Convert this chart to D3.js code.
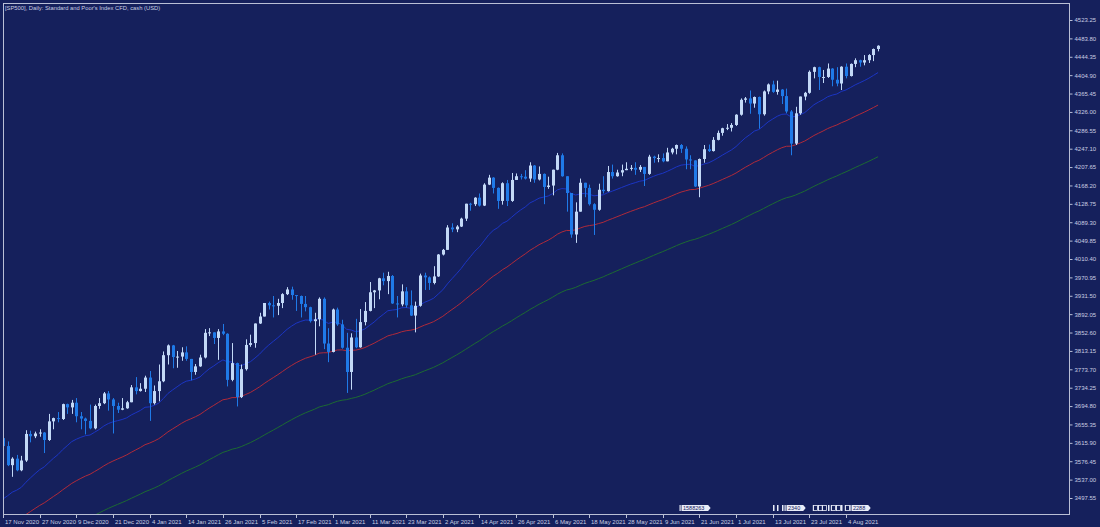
<!DOCTYPE html>
<html>
<head>
<meta charset="utf-8">
<script src="https://cdn.jsdelivr.net/npm/d3@7"></script>
<style>
html,body{margin:0;padding:0;background:#15205c;}
svg{display:block;}
text{font-family:"Liberation Sans",Arial,sans-serif;}
</style>
</head>
<body>
<svg id="chart" width="1100" height="527"></svg>
<script>
// ---------- DATA ----------
const title = "[SP500], Daily:  Standard and Poor's Index CFD, cash (USD)";

const dates = [
"2020-11-17","2020-11-18","2020-11-19","2020-11-20","2020-11-23","2020-11-24","2020-11-25","2020-11-26","2020-11-27","2020-11-30",
"2020-12-01","2020-12-02","2020-12-03","2020-12-04","2020-12-07","2020-12-08","2020-12-09","2020-12-10","2020-12-11","2020-12-14",
"2020-12-15","2020-12-16","2020-12-17","2020-12-18","2020-12-21","2020-12-22","2020-12-23","2020-12-24","2020-12-28","2020-12-29",
"2020-12-30","2020-12-31","2021-01-04","2021-01-05","2021-01-06","2021-01-07","2021-01-08","2021-01-11","2021-01-12","2021-01-13",
"2021-01-14","2021-01-15","2021-01-18","2021-01-19","2021-01-20","2021-01-21","2021-01-22","2021-01-25","2021-01-26","2021-01-27",
"2021-01-28","2021-01-29","2021-02-01","2021-02-02","2021-02-03","2021-02-04","2021-02-05","2021-02-08","2021-02-09","2021-02-10",
"2021-02-11","2021-02-12","2021-02-15","2021-02-16","2021-02-17","2021-02-18","2021-02-19","2021-02-22","2021-02-23","2021-02-24",
"2021-02-25","2021-02-26","2021-03-01","2021-03-02","2021-03-03","2021-03-04","2021-03-05","2021-03-08","2021-03-09","2021-03-10",
"2021-03-11","2021-03-12","2021-03-15","2021-03-16","2021-03-17","2021-03-18","2021-03-19","2021-03-22","2021-03-23","2021-03-24",
"2021-03-25","2021-03-26","2021-03-29","2021-03-30","2021-03-31","2021-04-01","2021-04-02","2021-04-05","2021-04-06","2021-04-07",
"2021-04-08","2021-04-09","2021-04-12","2021-04-13","2021-04-14","2021-04-15","2021-04-16","2021-04-19","2021-04-20","2021-04-21",
"2021-04-22","2021-04-23","2021-04-26","2021-04-27","2021-04-28","2021-04-29","2021-04-30","2021-05-03","2021-05-04","2021-05-05",
"2021-05-06","2021-05-07","2021-05-10","2021-05-11","2021-05-12","2021-05-13","2021-05-14","2021-05-17","2021-05-18","2021-05-19",
"2021-05-20","2021-05-21","2021-05-24","2021-05-25","2021-05-26","2021-05-27","2021-05-28","2021-05-31","2021-06-01","2021-06-02",
"2021-06-03","2021-06-04","2021-06-07","2021-06-08","2021-06-09","2021-06-10","2021-06-11","2021-06-14","2021-06-15","2021-06-16",
"2021-06-17","2021-06-18","2021-06-21","2021-06-22","2021-06-23","2021-06-24","2021-06-25","2021-06-28","2021-06-29","2021-06-30",
"2021-07-01","2021-07-02","2021-07-05","2021-07-06","2021-07-07","2021-07-08","2021-07-09","2021-07-12","2021-07-13","2021-07-14",
"2021-07-15","2021-07-16","2021-07-19","2021-07-20","2021-07-21","2021-07-22","2021-07-23","2021-07-26","2021-07-27","2021-07-28",
"2021-07-29","2021-07-30","2021-08-02","2021-08-03","2021-08-04","2021-08-05","2021-08-06","2021-08-09","2021-08-10","2021-08-11",
"2021-08-12","2021-08-13"
];

const opens = [
3626,3609,3568,3582,3557,3578,3635,3630,3636,3638,
3622,3662,3669,3667,3699,3692,3702,3673,3668,3663,
3647,3695,3701,3722,3709,3695,3687,3690,3703,3735,
3727,3732,3756,3701,3727,3748,3804,3825,3800,3801,
3810,3796,3768,3780,3799,3852,3853,3841,3855,3850,
3751,3787,3714,3774,3826,3830,3872,3887,3916,3911,
3910,3916,3935,3945,3933,3931,3914,3907,3877,3881,
3925,3829,3811,3902,3870,3820,3768,3842,3821,3875,
3899,3939,3943,3969,3963,3974,3915,3913,3941,3911,
3889,3910,3975,3971,3959,3973,4020,4030,4078,4074,
4080,4097,4129,4128,4142,4125,4170,4185,4163,4135,
4173,4135,4180,4188,4187,4183,4211,4181,4193,4165,
4168,4202,4233,4188,4152,4063,4112,4174,4163,4128,
4116,4159,4156,4197,4188,4196,4201,4204,4206,4202,
4208,4193,4230,4227,4227,4220,4239,4247,4255,4247,
4224,4222,4166,4225,4246,4242,4266,4281,4291,4292,
4298,4320,4352,4355,4344,4358,4321,4370,4385,4369,
4374,4360,4327,4258,4323,4359,4367,4412,4422,4401,
4401,4419,4395,4387,4423,4403,4429,4437,4432,4437,
4448,4461
];

const highs = [
3628,3619,3585,3590,3588,3643,3642,3640,3645,3639,
3678,3670,3682,3700,3700,3708,3712,3682,3670,3698,
3698,3712,3725,3727,3712,3702,3712,3706,3740,3757,
3744,3760,3770,3739,3784,3812,3827,3826,3813,3821,
3823,3796,3785,3805,3860,3862,3853,3860,3871,3851,
3830,3788,3784,3838,3848,3872,3895,3916,3919,3931,
3925,3937,3950,3951,3933,3932,3931,3908,3895,3928,
3928,3862,3904,3906,3880,3852,3851,3882,3903,3918,
3961,3944,3970,3981,3983,3976,3931,3956,3950,3943,
3919,3979,3981,3973,3995,4021,4032,4083,4087,4083,
4099,4129,4131,4143,4151,4173,4191,4186,4164,4175,
4180,4195,4194,4193,4201,4218,4212,4209,4194,4187,
4202,4238,4237,4188,4152,4132,4183,4174,4170,4130,
4172,4188,4210,4213,4202,4213,4218,4212,4218,4212,
4208,4234,4232,4235,4237,4249,4249,4256,4257,4252,
4233,4222,4226,4255,4256,4272,4286,4292,4300,4302,
4321,4355,4358,4372,4359,4359,4372,4387,4393,4393,
4375,4376,4330,4337,4359,4369,4415,4423,4423,4416,
4430,4420,4422,4424,4430,4430,4441,4438,4448,4450,
4462,4469
];

const lows = [
3588,3566,3543,3555,3555,3575,3617,3626,3629,3594,
3620,3645,3660,3665,3678,3678,3660,3645,3634,3645,
3645,3689,3699,3685,3636,3680,3686,3689,3703,3720,
3726,3725,3663,3698,3705,3746,3784,3776,3777,3792,
3792,3750,3762,3779,3797,3845,3828,3794,3847,3737,
3748,3694,3712,3771,3822,3820,3871,3887,3902,3885,
3890,3905,3933,3923,3899,3885,3898,3874,3805,3866,
3817,3789,3810,3867,3818,3723,3730,3819,3820,3868,
3898,3905,3924,3954,3935,3914,3885,3909,3906,3888,
3853,3908,3944,3944,3956,3972,4018,4030,4068,4068,
4079,4092,4114,4124,4123,4124,4169,4151,4118,4127,
4124,4133,4180,4181,4181,4176,4174,4179,4128,4161,
4147,4201,4187,4112,4056,4045,4112,4143,4125,4062,
4114,4151,4155,4183,4187,4188,4201,4200,4191,4197,
4167,4191,4217,4218,4218,4220,4235,4235,4238,4203,
4203,4165,4143,4217,4240,4241,4265,4275,4287,4284,
4296,4318,4346,4322,4335,4290,4318,4364,4367,4363,
4343,4323,4233,4255,4320,4351,4365,4398,4373,4388,
4399,4381,4381,4373,4398,4402,4422,4423,4426,4431,
4435,4456
];

const closes = [
3609,3568,3582,3557,3578,3635,3630,3636,3638,3622,
3662,3669,3667,3699,3692,3702,3673,3668,3663,3647,
3695,3701,3722,3709,3695,3687,3690,3703,3735,3727,
3732,3756,3701,3727,3748,3804,3825,3800,3801,3810,
3796,3768,3780,3799,3852,3853,3841,3855,3850,3751,
3787,3714,3774,3826,3830,3872,3887,3916,3911,3910,
3916,3935,3945,3933,3931,3914,3907,3877,3881,3925,
3829,3811,3902,3870,3820,3768,3842,3821,3875,3899,
3939,3943,3969,3963,3974,3915,3913,3941,3911,3889,
3910,3975,3971,3959,3973,4020,4030,4078,4074,4080,
4097,4129,4128,4142,4125,4170,4185,4163,4135,4173,
4135,4180,4188,4187,4183,4211,4181,4193,4165,4168,
4202,4233,4188,4152,4063,4112,4174,4163,4128,4116,
4159,4156,4197,4188,4196,4201,4204,4206,4202,4208,
4193,4230,4227,4227,4220,4239,4247,4255,4247,4224,
4222,4166,4225,4246,4242,4266,4281,4291,4292,4298,
4320,4352,4355,4344,4358,4321,4370,4385,4369,4374,
4360,4327,4258,4323,4359,4367,4412,4422,4401,4401,
4419,4395,4387,4423,4403,4429,4437,4432,4437,4448,
4461,4468
];

// closes before the visible window (22 Jun 2020 .. 16 Nov 2020), used only to warm up the moving averages
const histCloses = [
3118,3131,3050,3084,3009,3053,3100,
3116,3130,3135,3180,3145,3170,3152,3185,3155,3198,3227,3216,3225,3252,3257,3276,3236,3216,3239,3218,3258,3246,3271,
3295,3307,3328,3349,3351,3360,3334,3380,3373,3373,3382,3390,3375,3386,3397,3431,3444,3479,3485,3508,3500,
3527,3581,3455,3427,3405,3332,3399,3339,3341,3384,3401,3385,3357,3319,3281,3316,3237,3247,3298,3352,3335,3363,
3381,3348,3409,3361,3419,3447,3477,3534,3512,3489,3483,3484,3427,3443,3436,3453,3465,3401,3391,3271,3310,3270,
3310,3369,3443,3510,3509,3550,3546,3573,3537,3585,3627
];

const maPeriods = [20, 50, 100];

const yTicks = [4523.25,4483.80,4444.35,4404.90,4365.45,4326.00,4286.55,4247.10,4207.65,4168.20,
4128.75,4089.30,4049.85,4010.40,3970.95,3931.50,3892.05,3852.60,3813.15,3773.70,3734.25,
3694.80,3655.35,3615.90,3576.45,3537.00,3497.55];

const xTickLabels = ["17 Nov 2020","27 Nov 2020","9 Dec 2020","21 Dec 2020","4 Jan 2021","14 Jan 2021",
"26 Jan 2021","5 Feb 2021","17 Feb 2021","1 Mar 2021","11 Mar 2021","23 Mar 2021","2 Apr 2021",
"14 Apr 2021","26 Apr 2021","6 May 2021","18 May 2021","28 May 2021","9 Jun 2021","21 Jun 2021",
"1 Jul 2021","13 Jul 2021","23 Jul 2021","4 Aug 2021"];

// event flags on the bottom edge
const flagDates = ["2021-06-15","2021-07-13","2021-07-14","2021-07-15","2021-07-16",
"2021-07-26","2021-07-27","2021-07-28","2021-07-29","2021-07-30","2021-08-02","2021-08-03","2021-08-04","2021-08-05"];
const flagTexts = ["1588263","","","","2340","E","E","E","","E","G","","E","2288"];

// ---------- STYLE ----------
const C = {
  bg:"#15205c", frame:"#b9bfd6", text:"#c9cee2",
  bull:"#c3d9f7", bear:"#1f7ae8",
  ma:["#1b35c4","#b02a3a","#1c6a32"]
};
const plot = {left:3, top:3, right:1069, bottom:514};

// ---------- SCALES ----------
const parse = d3.timeParse("%Y-%m-%d");
const fmt = d3.timeFormat("%-d %b %Y");
const dateLabels = dates.map(d => fmt(parse(d)));

const x = d3.scaleLinear().domain([0, 184]).range([3, 846]);
const y = d3.scaleLinear().domain([3497.55, 4523.25]).range([498, 20]);

const svg = d3.select("#chart");
svg.append("rect").attr("width",1100).attr("height",527).attr("fill",C.bg);

svg.append("defs").append("clipPath").attr("id","clip")
  .append("rect").attr("x",plot.left+1).attr("y",plot.top+1)
  .attr("width",plot.right-plot.left-1).attr("height",plot.bottom-plot.top-1);

const g = svg.append("g").attr("clip-path","url(#clip)");

// ---------- MOVING AVERAGES (exponential) ----------
const allCloses = histCloses.concat(closes);
function ema(vals, n){
  const k = 2/(n+1); let e = vals[0];
  return vals.map((v,i)=> (e = i===0 ? v : v*k + e*(1-k)));
}
maPeriods.forEach((p,j)=>{
  const series = ema(allCloses, p).slice(histCloses.length);
  g.append("path").datum(series)
    .attr("fill","none").attr("stroke",C.ma[j]).attr("stroke-width",1)
    .attr("d", d3.line().x((d,i)=>x(i)).y(d=>y(d)));
});

// ---------- CANDLES ----------
const candles = g.selectAll("g.c").data(dates.map((d,i)=>({i,o:opens[i],h:highs[i],l:lows[i],c:closes[i]})))
  .enter().append("g");
candles.append("line")
  .attr("x1",d=>Math.round(x(d.i))+0.5).attr("x2",d=>Math.round(x(d.i))+0.5)
  .attr("y1",d=>y(d.h)).attr("y2",d=>y(d.l))
  .attr("stroke",d=>d.c>=d.o?C.bull:C.bear).attr("stroke-width",1);
candles.append("rect")
  .attr("x",d=>Math.round(x(d.i))-1).attr("width",3)
  .attr("y",d=>y(Math.max(d.o,d.c)))
  .attr("height",d=>Math.max(1, Math.abs(y(d.o)-y(d.c))))
  .attr("fill",d=>d.c>=d.o?C.bull:C.bear);

// ---------- FRAME ----------
svg.append("rect").attr("x",plot.left+0.5).attr("y",plot.top+0.5)
  .attr("width",plot.right-plot.left).attr("height",plot.bottom-plot.top)
  .attr("fill","none").attr("stroke",C.frame).attr("stroke-width",1);

// ---------- Y AXIS ----------
const yAxis = d3.axisRight(y).tickValues(yTicks).tickFormat(d=>d.toFixed(2)).tickSize(3).tickPadding(2);
const ya = svg.append("g").attr("transform",`translate(${plot.right+0.5},0)`).call(yAxis);
ya.select(".domain").remove();
ya.selectAll("line").attr("stroke",C.frame);
ya.selectAll("text").attr("fill",C.text).style("font-size","6px").style("font-family","Liberation Sans, Arial, sans-serif");

// ---------- X AXIS ----------
const xt = svg.append("g");
xTickLabels.forEach(lbl=>{
  const i = dateLabels.indexOf(lbl);
  if(i<0) return;
  const px = Math.round(x(i))+0.5;
  xt.append("line").attr("x1",px).attr("x2",px).attr("y1",plot.bottom).attr("y2",plot.bottom+4)
    .attr("stroke",C.frame);
  xt.append("text").attr("x",px+1.5).attr("y",plot.bottom+9.5).attr("fill",C.text)
    .style("font-size","6px").text(lbl);
});

// ---------- FLAGS ----------
const fl = svg.append("g");
flagDates.forEach((d,k)=>{
  const i = dates.indexOf(d); if(i<0) return;
  const px = Math.round(x(i)), t = flagTexts[k];
  const top = plot.bottom-9, h = 6;
  if(t.length===0){
    fl.append("rect").attr("x",px).attr("y",top).attr("width",1.5).attr("height",h).attr("fill","#e8ecf8");
  } else if(t.length===1){
    fl.append("rect").attr("x",px-0.5).attr("y",top+0.5).attr("width",4).attr("height",h-1)
      .attr("fill","none").attr("stroke","#e8ecf8").attr("stroke-width",0.8);
    fl.append("rect").attr("x",px-1.2).attr("y",top).attr("width",1).attr("height",h).attr("fill","#e8ecf8");
  } else {
    const w = t.length*3.3+4;
    fl.append("rect").attr("x",px-1.5).attr("y",top).attr("width",1.2).attr("height",h).attr("fill","#e8ecf8");
    fl.append("path")
      .attr("d",`M${px+0.5},${top}H${px+w}L${px+w+2.5},${top+h/2}L${px+w},${top+h}H${px+0.5}Z`)
      .attr("fill","#e8ecf8");
    fl.append("text").attr("x",px+2).attr("y",top+h-1).attr("fill","#15205c")
      .style("font-size","5.5px").text(t);
  }
});

// ---------- TITLE ----------
svg.append("text").attr("x",5).attr("y",9.5).attr("fill",C.text)
  .style("font-size","5.8px").text(title);
</script>
</body>
</html>
